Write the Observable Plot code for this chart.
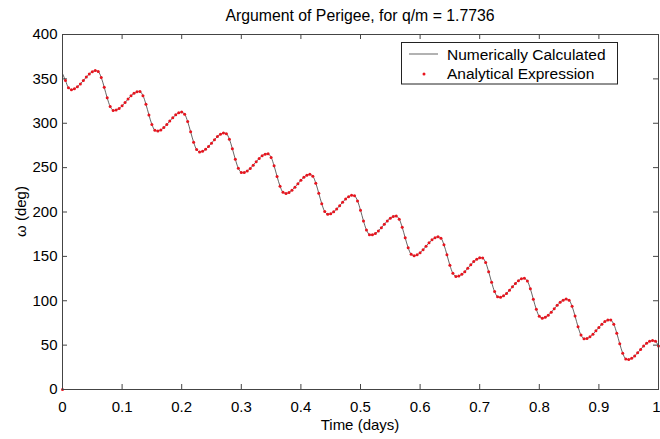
<!DOCTYPE html>
<html><head><meta charset="utf-8">
<script src="https://cdn.jsdelivr.net/npm/d3@7"></script>
<script src="https://cdn.jsdelivr.net/npm/@observablehq/plot@0.6"></script>
<style>html,body{margin:0;padding:0;background:#fff}svg{display:block}</style>
</head><body><div id="chart"></div>
<script>
const title = "Argument of Perigee, for q/m = 1.7736";
const xLabel = "Time (days)";
const yLabel = "\u03c9 (deg)";
const seriesNames = ["Numerically Calculated", "Analytical Expression"];
const xTicks = [0, 0.1, 0.2, 0.3, 0.4, 0.5, 0.6, 0.7, 0.8, 0.9, 1];
const yTicks = [0, 50, 100, 150, 200, 250, 300, 350, 400];

const times = [
  0,0.005,0.01,0.015,0.02,0.025,0.03,0.035,0.04,0.045,0.05,0.055,0.06,0.065,0.07,0.075,0.08,0.085,0.09,0.095,
  0.1,0.105,0.11,0.115,0.12,0.125,0.13,0.135,0.14,0.145,0.15,0.155,0.16,0.165,0.17,0.175,0.18,0.185,0.19,0.195,
  0.2,0.205,0.21,0.215,0.22,0.225,0.23,0.235,0.24,0.245,0.25,0.255,0.26,0.265,0.27,0.275,0.28,0.285,0.29,0.295,
  0.3,0.305,0.31,0.315,0.32,0.325,0.33,0.335,0.34,0.345,0.35,0.355,0.36,0.365,0.37,0.375,0.38,0.385,0.39,0.395,
  0.4,0.405,0.41,0.415,0.42,0.425,0.43,0.435,0.44,0.445,0.45,0.455,0.46,0.465,0.47,0.475,0.48,0.485,0.49,0.495,
  0.5,0.505,0.51,0.515,0.52,0.525,0.53,0.535,0.54,0.545,0.55,0.555,0.56,0.565,0.57,0.575,0.58,0.585,0.59,0.595,
  0.6,0.605,0.61,0.615,0.62,0.625,0.63,0.635,0.64,0.645,0.65,0.655,0.66,0.665,0.67,0.675,0.68,0.685,0.69,0.695,
  0.7,0.705,0.71,0.715,0.72,0.725,0.73,0.735,0.74,0.745,0.75,0.755,0.76,0.765,0.77,0.775,0.78,0.785,0.79,0.795,
  0.8,0.805,0.81,0.815,0.82,0.825,0.83,0.835,0.84,0.845,0.85,0.855,0.86,0.865,0.87,0.875,0.88,0.885,0.89,0.895,
  0.9,0.905,0.91,0.915,0.92,0.925,0.93,0.935,0.94,0.945,0.95,0.955,0.96,0.965,0.97,0.975,0.98,0.985,0.99,0.995,
  1
];

const omega = [
  356,348.1,340.1,337.8,338.8,341.0,344.3,348.1,352.0,355.5,358.0,359.3,358.2,351.5,340.5,328.6,319.0,314.5,314.9,316.7,
  319.6,323.3,327.3,330.9,333.8,335.5,335.8,331.1,321.4,309.4,298.6,292.1,291.2,292.5,295.1,298.5,302.4,306.3,309.5,311.7,
  312.6,310.1,301.9,290.3,278.7,270.4,267.6,268.4,270.6,273.8,277.6,281.5,285.0,287.6,289.0,288.3,282.0,271.3,259.3,249.4,
  244.5,244.6,246.3,249.1,252.8,256.7,260.4,263.4,265.2,265.7,261.5,252.1,240.1,229.1,222.2,220.9,222.1,224.6,228.0,231.9,
  235.8,239.1,241.4,242.4,240.3,232.5,221.1,209.4,200.6,197.4,198.1,200.2,203.3,207.1,211.0,214.6,217.3,218.8,218.3,212.5,
  202.0,190.0,179.8,174.5,174.3,175.9,178.7,182.3,186.2,190.0,193.0,195.0,195.6,191.8,182.7,170.9,159.7,152.3,150.6,151.8,
  154.2,157.5,161.4,165.3,168.6,171.0,172.1,170.5,163.1,151.9,140.0,131.0,127.3,127.8,129.8,132.8,136.6,140.5,144.1,146.9,
  148.5,148.3,143.0,132.8,120.8,110.3,104.5,104.0,105.5,108.2,111.8,115.7,119.5,122.6,124.7,125.4,122.2,113.4,101.7,90.3,
  82.5,80.4,81.4,83.7,87.0,90.9,94.8,98.2,100.7,101.9,100.6,93.7,82.7,70.7,61.3,57.1,57.5,59.4,62.3,66.1,
  70.0,73.6,76.5,78.2,78.3,73.4,63.5,51.5,40.8,34.5,33.8,35.2,37.8,41.3,45.2,49.0,52.2,54.3,55.1,54.3,
  49.0
];
// the analytical series starts with a stray value of 0 at t = 0
const analyticAtZero = 0;

const numeric = times.map((t, i) => ({t, w: omega[i]}));
const analytic = times.map((t, i) => ({t, w: i === 0 ? analyticAtZero : omega[i]}));

const W = 660, H = 439, mT = 34, mB = 50, mL = 62, mR = 2;
const pw = W - mL - mR, ph = H - mT - mB;
const font = "'Liberation Sans', Arial, sans-serif";
const axisColor = "#444";
const fmt = d3.format("~g");

const plot = Plot.plot({
  width: W, height: H,
  marginTop: mT, marginBottom: mB, marginLeft: mL, marginRight: mR,
  style: {fontFamily: font, fontSize: "15px", color: "#000", background: "#fff"},
  x: {domain: [0, 1]},
  y: {domain: [0, 400]},
  marks: [
    Plot.axisX(xTicks.slice(0, -1), {tickSize: 0, tickPadding: 12, tickFormat: fmt, fontSize: 15, label: null}),
    Plot.axisX(xTicks.slice(-1), {tickSize: 0, tickPadding: 12, tickFormat: fmt, fontSize: 15, label: null, textAnchor: "end", dx: 2}),
    Plot.axisY(yTicks, {tickSize: 0, tickPadding: 5, fontSize: 15, label: null}),
    Plot.tickX(xTicks, {x: d => d, insetTop: ph - 5, stroke: axisColor}),
    Plot.tickX(xTicks, {x: d => d, insetBottom: ph - 5, stroke: axisColor}),
    Plot.tickY(yTicks, {y: d => d, insetRight: pw - 5, stroke: axisColor}),
    Plot.tickY(yTicks, {y: d => d, insetLeft: pw - 5, stroke: axisColor}),
    Plot.line(numeric, {x: "t", y: "w", stroke: "#222", strokeWidth: 0.7, curve: "catmull-rom"}),
    Plot.dot(analytic, {x: "t", y: "w", r: 1.5, fill: "#e8141e", stroke: null}),
    Plot.frame({stroke: axisColor})
  ]
});
document.getElementById("chart").appendChild(plot);

const svg = d3.select(plot);
const cx = mL + pw / 2;
svg.append("text").attr("x", cx).attr("y", 21).attr("text-anchor", "middle")
  .attr("font-family", font).attr("font-size", 15.8).attr("fill", "#000").text(title);
svg.append("text").attr("x", cx).attr("y", 430).attr("text-anchor", "middle")
  .attr("font-family", font).attr("font-size", 15).attr("fill", "#000").text(xLabel);
svg.append("text").attr("transform", `translate(26,${mT + ph / 2}) rotate(-90)`).attr("text-anchor", "middle")
  .attr("font-family", font).attr("font-size", 15).attr("fill", "#000").text(yLabel);

// legend
const lg = svg.append("g");
lg.append("rect").attr("x", 401.5).attr("y", 42.5).attr("width", 216).attr("height", 41.5)
  .attr("fill", "#fff").attr("stroke", "#222").attr("stroke-width", 1);
lg.append("line").attr("x1", 409).attr("x2", 438).attr("y1", 54).attr("y2", 54)
  .attr("stroke", "#222").attr("stroke-width", 0.7);
lg.append("circle").attr("cx", 424).attr("cy", 74).attr("r", 1.5).attr("fill", "#e8141e");
lg.append("text").attr("x", 447).attr("y", 59.5).attr("text-anchor", "start").attr("font-family", font)
  .attr("font-size", 15.5).attr("fill", "#000").text(seriesNames[0]);
lg.append("text").attr("x", 447).attr("y", 78.5).attr("text-anchor", "start").attr("font-family", font)
  .attr("font-size", 15.5).attr("fill", "#000").text(seriesNames[1]);
</script>
</body></html>
